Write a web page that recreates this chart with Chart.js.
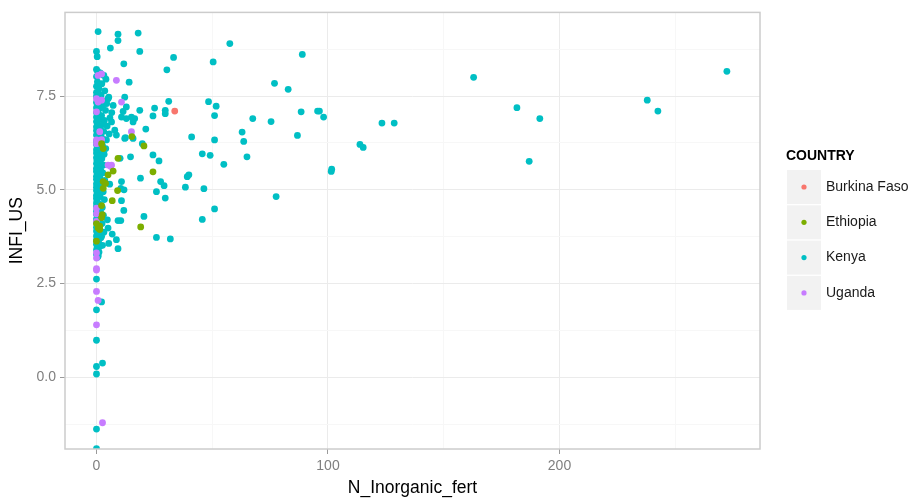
<!DOCTYPE html>
<html>
<head>
<meta charset="utf-8">
<script src="https://cdn.jsdelivr.net/npm/chart.js@4.4.0/dist/chart.umd.min.js"></script>
<style>
  html, body { margin: 0; padding: 0; background: #fff; }
  #wrap { width: 919px; height: 503px; }
</style>
</head>
<body>
<div id="wrap"><canvas id="fertChart"></canvas></div>
<script>
// data: [N_Inorganic_fert, INFI_US]
const burkinaFaso = [[33.8, 7.10]];

const ethiopia = [
  [20.5, 6.17], [15.3, 6.42], [9.3, 5.84], [7.2, 5.50], [5.0, 5.40], [9.1, 4.98],
  [6.8, 4.71], [2.2, 4.58], [2.5, 4.34], [0.7, 3.98], [19.1, 4.01], [24.4, 5.48],
  [2.2, 6.23], [2.9, 5.22], [1.4, 3.94], [2.2, 4.26], [1.4, 4.03], [0, 3.63],
  [0, 4.10], [2.9, 5.04], [3.9, 5.17], [2.9, 6.10]
];

const kenya = [
  // far right
  [272.3, 8.16], [237.9, 7.39], [242.5, 7.10], [181.6, 7.19], [191.5, 6.90], [186.9, 5.76],
  [162.9, 8.00], [88.9, 8.61], [88.4, 7.08], [95.5, 7.10], [96.3, 7.10], [98.1, 6.94],
  [123.3, 6.78], [128.6, 6.78], [113.8, 6.21], [115.2, 6.13], [101.4, 5.49], [101.6, 5.55],
  // 35 - 90
  [57.6, 8.90], [50.4, 8.41], [76.9, 7.84], [82.8, 7.68], [48.4, 7.35], [51.7, 7.23],
  [51.0, 6.98], [67.5, 6.90], [75.4, 6.82], [41.1, 6.41], [51.0, 6.33], [62.9, 6.54],
  [63.6, 6.29], [86.8, 6.45], [45.7, 5.96], [49.1, 5.92], [55.0, 5.68], [65.0, 5.88],
  [39.2, 5.35], [39.9, 5.40], [38.4, 5.07], [46.4, 5.03], [77.6, 4.82], [51.0, 4.49],
  [45.7, 4.21],
  // 3 - 35
  [0.7, 9.22], [9.3, 9.15], [9.3, 8.98], [18.0, 9.18], [6.0, 8.78], [18.7, 8.69],
  [0, 8.69], [0.3, 8.55], [11.8, 8.36], [33.3, 8.53], [30.4, 8.20], [14.1, 7.87],
  [31.2, 7.36], [25.1, 7.18], [29.7, 7.12], [29.7, 7.03], [18.7, 7.12], [12.2, 7.47],
  [7.2, 7.25], [5.0, 7.43], [12.9, 7.21], [11.5, 7.09], [15.1, 6.94], [15.8, 6.81],
  [21.3, 6.62], [12.5, 6.39], [15.8, 6.37], [19.8, 6.23], [24.4, 6.97], [14.7, 5.88],
  [10.2, 5.84], [24.4, 5.93], [27.0, 5.77], [19.0, 5.31], [27.7, 5.22], [29.2, 5.11],
  [25.9, 4.95], [29.7, 4.78], [10.8, 5.22], [11.9, 5.00], [10.5, 5.04], [5.7, 5.15],
  [10.8, 4.71], [11.8, 4.45], [10.5, 4.18], [9.3, 4.18], [4.7, 4.20], [6.8, 3.82],
  [8.6, 3.67], [9.3, 3.43], [5.3, 3.57], [25.9, 3.73], [31.9, 3.69], [20.5, 4.29],
  [6.5, 6.81], [7.9, 6.59], [10.8, 6.94], [12.9, 6.90], [16.5, 6.90], [8.6, 6.46],
  [12.2, 6.37], [4.3, 6.33], [5.0, 3.98], [2.2, 3.76], [1.4, 3.49], [0.7, 3.27],
  // dense column near zero
  [0, 8.21], [0.5, 8.16], [1.6, 8.12], [3.2, 8.05], [0, 8.02], [4.1, 7.95],
  [0.4, 7.88], [2.3, 7.83], [0, 7.76], [1.1, 7.70], [3.6, 7.64], [0, 7.60],
  [0.8, 7.57], [2.0, 7.53], [0, 7.50], [5.3, 7.47], [0.3, 7.45], [1.4, 7.41],
  [3.0, 7.37], [0, 7.33], [4.4, 7.30], [0.6, 7.27], [2.6, 7.22], [0, 7.19],
  [1.2, 7.16], [3.9, 7.12], [6.6, 7.06], [0, 7.06], [0.9, 7.02], [2.2, 6.98],
  [0, 6.94], [5.8, 6.92], [1.6, 6.89], [3.4, 6.85], [0, 6.82], [0.5, 6.77],
  [2.8, 6.74], [4.6, 6.70], [0, 6.68], [1.3, 6.64], [0, 6.58], [3.1, 6.56],
  [0.7, 6.52], [5.5, 6.49], [0, 6.46], [2.0, 6.43], [0.4, 6.38], [3.5, 6.34],
  [0, 6.30], [1.5, 6.27], [0, 6.21], [2.6, 6.18], [0.8, 6.14], [4.0, 6.10],
  [0, 6.07], [1.9, 6.03], [0, 5.98], [3.3, 5.95], [0.6, 5.91], [0, 5.86],
  [2.3, 5.83], [0.2, 5.79], [1.2, 5.75], [0, 5.70], [3.0, 5.66], [0.5, 5.62],
  [0, 5.57], [1.8, 5.54], [0, 5.49], [2.7, 5.45], [0.4, 5.41], [0, 5.36],
  [1.4, 5.33], [0, 5.28], [3.6, 5.25], [0.7, 5.20], [0, 5.16], [2.0, 5.12],
  [0, 5.07], [1.1, 5.03], [0, 4.98], [2.9, 4.95], [0.5, 4.90], [0, 4.85],
  [1.6, 4.82], [0, 4.77], [3.4, 4.74], [0.3, 4.70], [0, 4.65], [1.3, 4.62],
  [0, 4.56], [2.5, 4.53], [0.6, 4.48], [0, 4.43], [1.8, 4.40], [0, 4.35],
  [3.0, 4.32], [0.4, 4.27], [0, 4.22], [1.5, 4.18], [0, 4.13], [2.4, 4.10],
  [0.8, 4.05], [0, 4.00], [1.2, 3.95], [0, 3.90], [3.2, 3.87], [0.5, 3.82],
  [0, 3.77], [1.9, 3.72], [0, 3.66], [0.9, 3.61], [0, 3.55], [2.6, 3.52],
  [0.3, 3.46], [0, 3.40], [1.1, 3.34], [0, 3.28], [0.4, 3.20], [0.7, 3.23],
  // below the column
  [0, 2.62], [2.2, 2.01], [0, 1.80], [0, 0.99], [0, 0.29], [2.6, 0.38],
  [0, 0.09], [0, -1.38], [0, -1.90]
];

const uganda = [
  [8.6, 7.92], [0.7, 8.05], [2.2, 8.09], [0, 7.43], [2.2, 7.39], [0, 7.08],
  [10.8, 7.34], [0.7, 7.34], [15.1, 6.55], [1.4, 6.55], [2.2, 6.34], [0, 6.33],
  [0, 6.23], [6.5, 5.66], [5.0, 5.66], [6.2, 5.62], [0, 4.51], [0, 4.36],
  [0, 4.16], [0, 3.32], [0, 3.18], [0, 2.90], [0, 2.86], [0, 2.29],
  [0.7, 2.05], [0, 1.40], [2.6, -1.21]
];

const countries = ['Burkina Faso', 'Ethiopia', 'Kenya', 'Uganda'];
const countryColors = ['#F8766D', '#7CAE00', '#00BFC4', '#C77CFF'];

const xTicks = [0, 100, 200];
const xTickLabels = ['0', '100', '200'];
const xMinor = [50, 150, 250];
const yTicks = [0, 2.5, 5, 7.5];
const yTickLabels = ['0.0', '2.5', '5.0', '7.5'];
const yMinor = [-1.25, 1.25, 3.75, 6.25, 8.75];

const toPoints = (rows) => rows.map(r => ({ x: r[0], y: r[1] }));
const seriesData = [burkinaFaso, ethiopia, kenya, uganda];

// ggplot style panel border + legend with grey key boxes
const ggExtras = {
  id: 'ggExtras',
  afterDatasetsDraw(chart) {
    const { ctx, chartArea: a } = chart;
    ctx.save();
    ctx.strokeStyle = '#cccccc';
    ctx.lineWidth = 1.5;
    ctx.strokeRect(a.left, a.top, a.right - a.left, a.bottom - a.top);
    ctx.restore();
  },
  afterDraw(chart) {
    const ctx = chart.ctx;
    ctx.save();
    ctx.textBaseline = 'middle';
    ctx.fillStyle = '#000';
    ctx.font = 'bold 14px "Liberation Sans", Arial, sans-serif';
    ctx.fillText('COUNTRY', 786, 156);
    chart.data.datasets.forEach((ds, i) => {
      const y = 170 + i * 35.3;
      ctx.fillStyle = '#f2f2f2';
      ctx.fillRect(787, y, 34, 34);
      ctx.fillStyle = ds.backgroundColor;
      ctx.beginPath();
      ctx.arc(804, y + 17, 2.6, 0, Math.PI * 2);
      ctx.fill();
      ctx.fillStyle = '#1a1a1a';
      ctx.font = '14px "Liberation Sans", Arial, sans-serif';
      ctx.fillText(ds.label, 826, y + 17);
    });
    ctx.restore();
  }
};

const tickFont = { family: '"Liberation Sans", Arial, sans-serif', size: 14 };
const titleFont = { family: '"Liberation Sans", Arial, sans-serif', size: 17.5 };

const fertChart = new Chart(document.getElementById('fertChart'), {
  type: 'scatter',
  data: {
    datasets: countries.map((name, i) => ({
      label: name,
      data: toPoints(seriesData[i]),
      backgroundColor: countryColors[i],
      borderWidth: 0,
      pointRadius: 3.4,
      pointHoverRadius: 3.4,
      // Kenya underneath, the smaller groups drawn over it
      order: name === 'Kenya' ? 1 : 0
    }))
  },
  options: {
    responsive: true,
    maintainAspectRatio: false,
    animation: false,
    events: [],
    layout: { padding: { top: 10, right: 159, left: 0, bottom: 0 } },
    plugins: {
      legend: { display: false },
      tooltip: { enabled: false }
    },
    scales: {
      x: {
        type: 'linear',
        min: -13.6,
        max: 286.6,
        afterBuildTicks: (scale) => {
          scale.ticks = [...xTicks, ...xMinor].sort((a, b) => a - b).map(v => ({ value: v }));
        },
        afterFit: (scale) => { scale.height = 54; },
        border: { display: false },
        grid: {
          color: (c) => xTicks.includes(c.tick && c.tick.value) ? '#ebebeb' : '#f7f7f7',
          lineWidth: 1,
          tickLength: 5,
          tickColor: (c) => xTicks.includes(c.tick && c.tick.value) ? '#9a9a9a' : 'rgba(0,0,0,0)'
        },
        ticks: {
          autoSkip: false,
          maxRotation: 0,
          padding: 4,
          color: '#7f7f7f',
          font: tickFont,
          callback: (v) => {
            const k = xTicks.indexOf(v);
            return k >= 0 ? xTickLabels[k] : '';
          }
        },
        title: {
          display: true,
          text: 'N_Inorganic_fert',
          color: '#000',
          font: titleFont,
          padding: { top: 0, bottom: 4 }
        }
      },
      y: {
        type: 'linear',
        min: -1.91,
        max: 9.73,
        afterBuildTicks: (scale) => {
          scale.ticks = [...yTicks, ...yMinor].sort((a, b) => a - b).map(v => ({ value: v }));
        },
        afterFit: (scale) => { scale.width = 65; },
        border: { display: false },
        grid: {
          color: (c) => yTicks.includes(c.tick && c.tick.value) ? '#ebebeb' : '#f7f7f7',
          lineWidth: 1,
          tickLength: 5,
          tickColor: (c) => yTicks.includes(c.tick && c.tick.value) ? '#9a9a9a' : 'rgba(0,0,0,0)'
        },
        ticks: {
          autoSkip: false,
          padding: 4,
          color: '#7f7f7f',
          font: tickFont,
          callback: (v) => {
            const k = yTicks.indexOf(v);
            return k >= 0 ? yTickLabels[k] : '';
          }
        },
        title: {
          display: true,
          text: 'INFI_US',
          color: '#000',
          font: titleFont,
          padding: { top: 7, bottom: 0 }
        }
      }
    }
  },
  plugins: [ggExtras]
});
</script>
</body>
</html>
